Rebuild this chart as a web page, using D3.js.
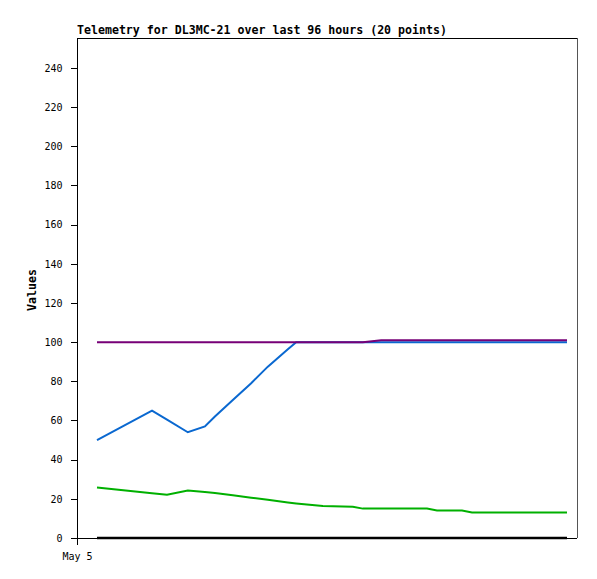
<!DOCTYPE html>
<html>
<head>
<meta charset="utf-8">
<script src="https://cdn.jsdelivr.net/npm/d3@7"></script>
<style>
  html, body { margin: 0; padding: 0; background: #fff; }
  text { font-family: "DejaVu Sans Mono", "Liberation Mono", monospace; fill: #000; }
</style>
</head>
<body>
<svg id="chart" width="597" height="579"></svg>
<script>
// ---- data ----
const titleText = "Telemetry for DL3MC-21 over last 96 hours (20 points)";
const yLabel = "Values";
const times = ["00:48","03:00","03:36","04:26","05:07","05:31","06:14","06:58","07:38","08:26",
               "08:46","09:50","11:02","11:26","12:10","14:00","14:24","15:24","15:48","19:36"];
const seriesBlue   = [50,65,60.4,54,57,62,70.5,79,87.5,96.4,100,100,100,100,100,100,100,100,100,100];
const seriesPurple = [100,100,100,100,100,100,100,100,100,100,100,100,100,100,101,101,101,101,101,101];
const seriesGreen  = [25.8,22.9,22.1,24.2,23.5,23,21.8,20.6,19.5,18.1,17.6,16.3,16,15,15,15,14,14,13,13];
const seriesBlack  = [0,0,0,0,0,0,0,0,0,0,0,0,0,0,0,0,0,0,0,0];
const yTicks = [0,20,40,60,80,100,120,140,160,180,200,220,240];
const xTickLabels = ["May 5"];

// ---- layout ----
const svg = d3.select("#chart");
const pL = 77, pR = 577, pT = 38, pB = 538;
const day = "2024-05-05T";
const parse = d3.timeParse("%Y-%m-%dT%H:%M");
const dates = times.map(t => parse(day + t));
const x = d3.scaleTime()
  .domain([parse(day + "00:00"), parse(day + "20:00")])
  .range([pL, pR]);
const y = d3.scaleLinear().domain([0, 255.3]).range([pB, pT]);

// frame
svg.append("line").attr("x1", pL).attr("x2", pR).attr("y1", pT + 0.5).attr("y2", pT + 0.5)
  .attr("stroke", "#000").attr("shape-rendering", "crispEdges");
svg.append("line").attr("x1", pR + 0.5).attr("x2", pR + 0.5).attr("y1", pT).attr("y2", pB)
  .attr("stroke", "#555").attr("shape-rendering", "crispEdges");

// y axis
const yAxis = d3.axisLeft(y).tickValues(yTicks).tickSize(7).tickPadding(8);
const gy = svg.append("g").attr("transform", `translate(${pL + 0.5},0)`).call(yAxis);
gy.select(".domain").remove();
gy.selectAll("line").attr("stroke", "#000").attr("shape-rendering", "crispEdges");
gy.selectAll("text").style("font-size", "10px").attr("fill", "#000");
svg.append("line").attr("x1", pL + 0.5).attr("x2", pL + 0.5).attr("y1", pT).attr("y2", pB + 7)
  .attr("stroke", "#000").attr("shape-rendering", "crispEdges");

// x axis
svg.append("line").attr("x1", pL).attr("x2", pR).attr("y1", pB + 0.5).attr("y2", pB + 0.5)
  .attr("stroke", "#000").attr("shape-rendering", "crispEdges");
const xAxis = d3.axisBottom(x).tickValues([parse(day + "00:00")]).tickSize(0).tickPadding(15)
  .tickFormat((d, i) => xTickLabels[i]);
const gx = svg.append("g").attr("transform", `translate(0,${pB})`).call(xAxis);
gx.select(".domain").remove();
gx.selectAll("text").style("font-size", "10px").attr("fill", "#000");

// lines
const line = d3.line().x((d, i) => x(dates[i])).y(d => y(d));
const series = [
  { v: seriesGreen, c: "#00b000", w: 2 },
  { v: seriesBlue, c: "#0a68d0", w: 2 },
  { v: seriesPurple, c: "#770077", w: 2 },
  { v: seriesBlack, c: "#000", w: 2.5 }
];
series.forEach(s => {
  svg.append("path").datum(s.v).attr("d", line)
    .attr("fill", "none").attr("stroke", s.c).attr("stroke-width", s.w);
});

// title
svg.append("text").attr("x", pL).attr("y", 34).text(titleText)
  .style("font-size", "11.6px").style("font-weight", "bold");

// y label
svg.append("text").attr("transform", "translate(36,290) rotate(-90)")
  .attr("text-anchor", "middle").text(yLabel)
  .style("font-size", "11.6px").style("font-weight", "bold");
</script>
</body>
</html>
